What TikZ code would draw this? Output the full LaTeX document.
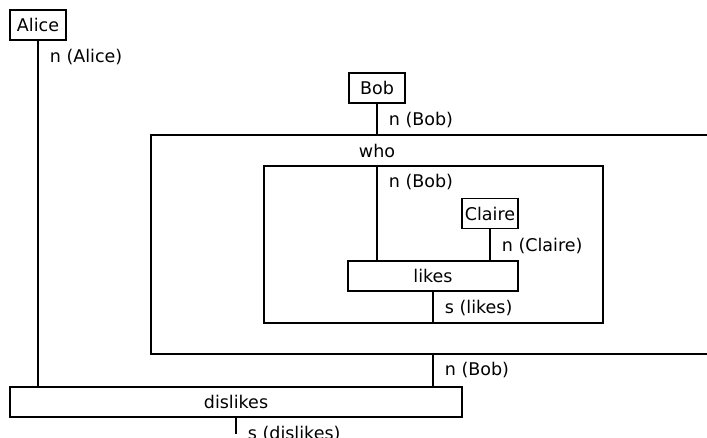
\documentclass[tikz,border=0pt]{standalone}
\usepackage{fontspec}
\setmainfont{DejaVu Sans}

\begin{document}
\begin{tikzpicture}[x=1pt,y=-1pt,line width=1.8pt,
  font=\fontsize{17.5}{21}\selectfont,
  word/.style={draw,minimum height=30pt,inner sep=0pt},
  lbl/.style={anchor=west,inner sep=0pt}]
\useasboundingbox (0,0) rectangle (707,438);
\clip (0,0) rectangle (707,438);
% frames
\coordinate (whoTL) at (151,135);
\coordinate (whoBR) at (725,354);
\coordinate (inTL) at (264,166);
\coordinate (inBR) at (603,323);
\draw (whoTL) rectangle (whoBR);
\draw (inTL) rectangle (inBR);
\node (who) at (377,150.5) {who};
% words
\node[word,minimum width=56pt] (alice) at (38,25) {Alice};
\node[word,minimum width=56pt] (bob) at (377,88) {Bob};
\node[word,minimum width=56pt] (claire) at (490,213.5) {Claire};
\node[word,minimum width=170pt] (likes) at (433,276) {likes};
\node[word,minimum width=452pt] (dislikes) at (236,402) {dislikes};
\coordinate (out) at ([shift={(0,16)}]dislikes.south);
% wires
\draw (alice.south) -- (alice.south |- dislikes.north);
\draw (bob.south) -- (bob.south |- whoTL);
\draw (bob.south |- inTL) -- (bob.south |- likes.north);
\draw (claire.south) -- (claire.south |- likes.north);
\draw (likes.south) -- (likes.south |- inBR);
\draw (likes.south |- whoBR) -- (likes.south |- dislikes.north);
\draw (dislikes.south) -- (out);
% types
\node[lbl] (talice) at ([shift={(11,16.5)}]alice.south) {n (Alice)};
\node[lbl] (tbob) at ([shift={(11,16.5)}]bob.south) {n (Bob)};
\node[lbl] (tbobin) at ([shift={(11,16.5)}]bob.south |- inTL) {n (Bob)};
\node[lbl] (tclaire) at ([shift={(11,16.5)}]claire.south) {n (Claire)};
\node[lbl] (tlikes) at ([shift={(11,16.5)}]likes.south) {s (likes)};
\node[lbl] (tbobout) at ([shift={(11,16.5)}]likes.south |- whoBR) {n (Bob)};
\node[lbl] (tdislikes) at ([shift={(11,16.5)}]dislikes.south) {s (dislikes)};
\end{tikzpicture}
\end{document}
